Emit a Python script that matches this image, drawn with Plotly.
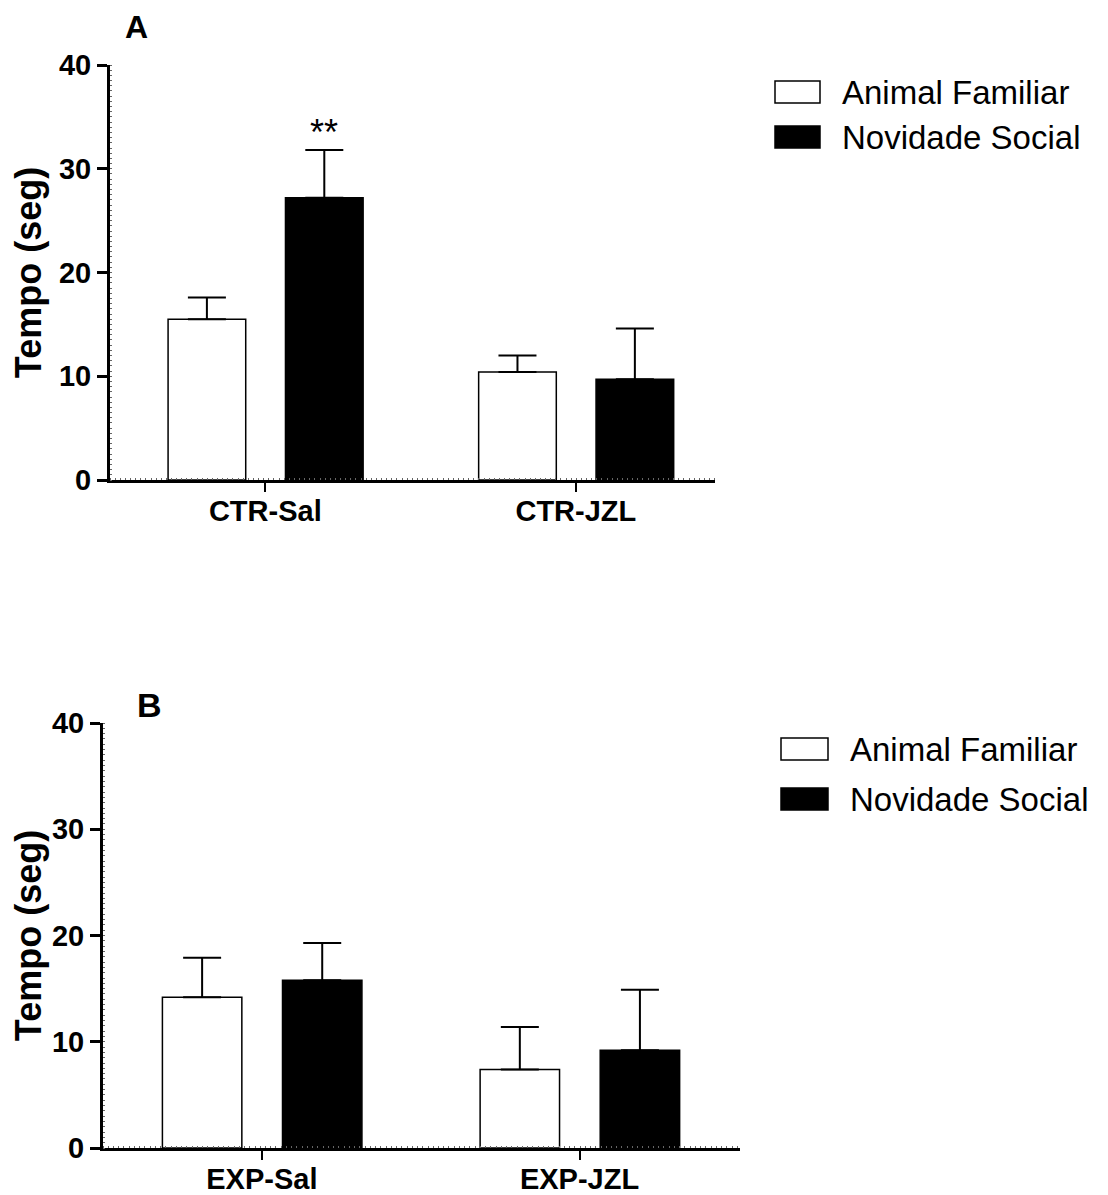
import plotly.graph_objects as go

# page body has an 8px default margin; lay out in page pixels and convert
PAGE_W, PAGE_H = 1108, 1195
OFF = 8
W, H = PAGE_W - OFF, PAGE_H - OFF
FONT = "Liberation Sans, Arial, sans-serif"

def px(x):
    return (x - OFF) / W

def py(y):
    return 1 - (y - OFF) / H

series_names = ["Animal Familiar", "Novidade Social"]
series_fill = ["white", "black"]

cats_a = ["CTR-Sal", "CTR-JZL"]
mean_a = {"Animal Familiar": [15.5, 10.4], "Novidade Social": [27.2, 9.7]}
sem_a = {"Animal Familiar": [2.1, 1.6], "Novidade Social": [4.6, 4.9]}
sig_a = {"Novidade Social": ["**", ""], "Animal Familiar": ["", ""]}

cats_b = ["EXP-Sal", "EXP-JZL"]
mean_b = {"Animal Familiar": [14.2, 7.4], "Novidade Social": [15.8, 9.2]}
sem_b = {"Animal Familiar": [3.7, 4.0], "Novidade Social": [3.5, 5.7]}

yticks = [0, 10, 20, 30, 40]

offsets = [-0.188, 0.19]
bar_w = 0.25

fig = go.Figure()

def add_panel(cats, means, sems, xa, ya, sig=None):
    for k, name in enumerate(series_names):
        xs = [i + offsets[k] for i in range(len(cats))]
        fig.add_trace(go.Bar(
            x=xs, y=means[name], width=bar_w, name=name,
            marker=dict(color=series_fill[k], line=dict(color="black", width=1.5)),
            error_y=dict(type="data", symmetric=False, array=sems[name],
                         arrayminus=[0] * len(cats), color="black",
                         thickness=2, width=19),
            xaxis=xa, yaxis=ya, showlegend=False,
        ))
        if sig:
            for i, s in enumerate(sig[name]):
                if s:
                    fig.add_annotation(
                        x=xs[i], y=means[name][i] + sems[name][i], xref=xa, yref=ya,
                        text=s, showarrow=False, yshift=18,
                        font=dict(family=FONT, size=36, color="black"))

add_panel(cats_a, mean_a, sem_a, "x", "y", sig_a)
add_panel(cats_b, mean_b, sem_b, "x2", "y2")

def xaxis_style(domain, cats, rng, anchor):
    return dict(
        domain=domain, anchor=anchor, range=rng, automargin=False,
        tickmode="array", tickvals=list(range(len(cats))), ticktext=cats,
        ticks="outside", ticklen=9, tickwidth=2, tickcolor="black",
        ticklabelstandoff=-6,
        showline=True, linecolor="black", linewidth=3,
        showgrid=False, zeroline=False, fixedrange=True,
        minor=dict(ticks="inside", ticklen=2, tickwidth=1, tickcolor="#666",
                   tickmode="linear", tick0=-0.5, dtick=0.0165),
        tickfont=dict(family=FONT, size=29, color="black", weight="bold"),
    )

def yaxis_style(domain, anchor):
    return dict(
        domain=domain, anchor=anchor, range=[0, 40], automargin=False,
        tickmode="array", tickvals=yticks, ticktext=[str(v) for v in yticks],
        ticks="outside", ticklen=10, tickwidth=3, tickcolor="black",
        showline=True, linecolor="black", linewidth=3,
        showgrid=False, zeroline=False,
        minor=dict(ticks="inside", ticklen=2, tickwidth=1, tickcolor="#666",
                   tickmode="linear", tick0=0, dtick=0.5),
        tickfont=dict(family=FONT, size=29, color="black", weight="bold"),
        title=dict(text="Tempo (seg)", standoff=10,
                   font=dict(family=FONT, size=36, color="black", weight="bold")),
    )

fig.update_layout(
    width=W, height=H, margin=dict(l=0, r=0, t=0, b=0, autoexpand=False),
    paper_bgcolor="white", plot_bgcolor="white",
    barmode="overlay",
    xaxis=xaxis_style([px(110), px(715)], cats_a, [-0.5, 1.448], "y"),
    yaxis=yaxis_style([py(480), py(65)], "x"),
    xaxis2=xaxis_style([px(103), px(740)], cats_b, [-0.5, 1.505], "y2"),
    yaxis2=yaxis_style([py(1148), py(723)], "x2"),
)

# Panel letters
fig.add_annotation(x=px(136), y=py(27), xref="paper", yref="paper", text="A",
                   xanchor="center", yanchor="middle", borderpad=0,
                   showarrow=False, font=dict(family=FONT, size=32, color="black", weight="bold"))
fig.add_annotation(x=px(149), y=py(705), xref="paper", yref="paper", text="B",
                   xanchor="center", yanchor="middle",
                   showarrow=False, font=dict(family=FONT, size=34, color="black", weight="bold"))

# Legends (drawn as boxes + text)
def add_legend(x0, x1, ys, text_x):
    for k, name in enumerate(series_names):
        yc, hh = ys[k], 11
        fig.add_shape(type="rect", xref="paper", yref="paper",
                      x0=px(x0), x1=px(x1), y0=py(yc + hh), y1=py(yc - hh),
                      fillcolor=series_fill[k], line=dict(color="black", width=1.5))
        fig.add_annotation(x=px(text_x), y=py(yc), xref="paper", yref="paper",
                           text=name, showarrow=False, xanchor="left", yanchor="middle",
                           font=dict(family=FONT, size=33, color="black"))

add_legend(775, 820, [92, 137], 840)
add_legend(781, 828, [749, 799], 848)

fig.write_html("out.html")
